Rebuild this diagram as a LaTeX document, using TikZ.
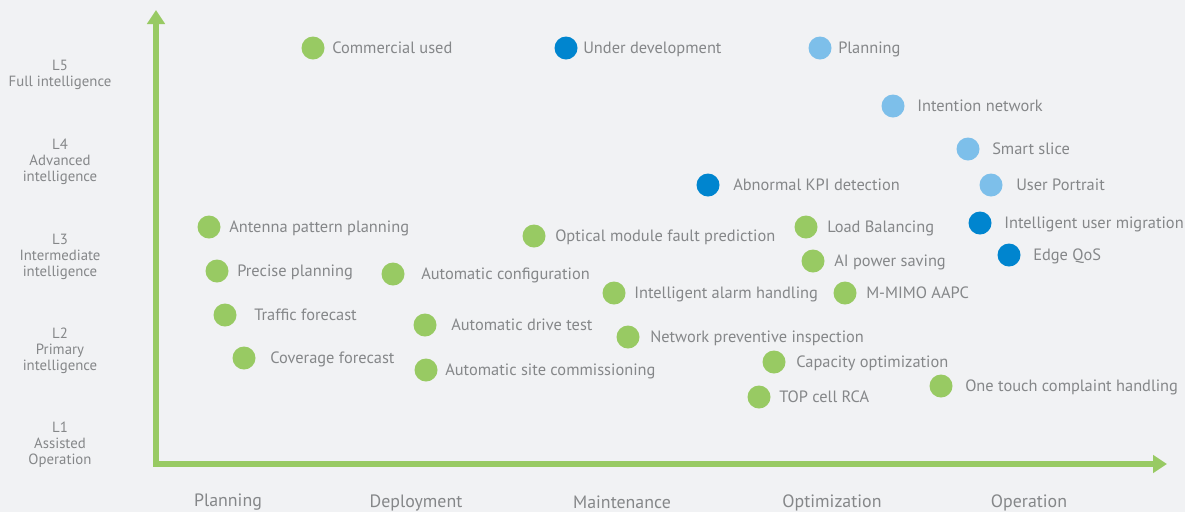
\documentclass[tikz,border=0pt]{standalone}
\usepackage{fontspec}
\setmainfont{PT Sans}
\usetikzlibrary{arrows.meta}

\definecolor{paper}{HTML}{F1F2F4}
\definecolor{used}{HTML}{98CA63}
\definecolor{dev}{HTML}{0085CF}
\definecolor{plan}{HTML}{7DBFEA}
\definecolor{ink}{HTML}{858789}

\tikzstyle{axis}=[-{Triangle[length=10.5pt,width=13pt]}, line width=3.9pt, draw=used]
\tikzstyle{dot}=[circle, inner sep=0pt, minimum size=17.25pt]
\tikzstyle{gdot}=[dot, fill=used]
\tikzstyle{bdot}=[dot, fill=dev]
\tikzstyle{ldot}=[dot, fill=plan]
\tikzstyle{item}=[anchor=west, inner sep=0pt, text=ink, font=\fontsize{12.3}{14}\selectfont, text height=0.88em, text depth=0pt]
\tikzstyle{level}=[align=center, text=ink, font=\fontsize{11.1}{12}\selectfont]
\tikzstyle{stage}=[inner sep=0pt, text=ink, font=\fontsize{13.4}{15}\selectfont]

\begin{document}
\begin{tikzpicture}[x=0.75pt, y=-0.75pt]
    \fill[paper] (0,0) rectangle (1185,512);
    \useasboundingbox (0,0) rectangle (1185,512);

    % axes
    \coordinate (origin) at (156,464);
    \coordinate (ytop) at (156,10);
    \coordinate (xend) at (1167,464);
    \draw[axis] ([yshift=-1.9pt]origin) -- (ytop);
    \draw[axis] ([xshift=-1.9pt]origin) -- (xend);

    % levels
    \node (L5) at (60,75) [level] {L5\\Full intelligence};
    \node (L4) at (60,162) [level] {L4\\Advanced\\intelligence};
    \node (L3) at (60,257) [level] {L3\\Intermediate\\intelligence};
    \node (L2) at (60,351) [level] {L2\\Primary\\intelligence};
    \node (L1) at (60,445) [level] {L1\\Assisted\\Operation};

    % stages
    \node (planning) at (228,502.5) [stage] {Planning};
    \node (deployment) at (416,502.5) [stage] {Deployment};
    \node (maintenance) at (622,502.5) [stage] {Maintenance};
    \node (optimization) at (832,502.5) [stage] {Optimization};
    \node (operation) at (1029,502.5) [stage] {Operation};

    % legend
    \node (usedDot) at (313,48) [gdot] {};
    \node (usedText) at (332,48) [item] {Commercial used};
    \node (devDot) at (566,48) [bdot] {};
    \node (devText) at (583,48) [item] {Under development};
    \node (planDot) at (820,48) [ldot] {};
    \node (planText) at (838,48) [item] {Planning};

    % planned use cases
    \node (intention) at (893,106) [ldot] {};
    \node (intentionText) at (917,106) [item] {Intention network};
    \node (slice) at (968,149) [ldot] {};
    \node (sliceText) at (992,149) [item] {Smart slice};
    \node (portrait) at (991,185) [ldot] {};
    \node (portraitText) at (1016,185) [item] {User Portrait};

    % use cases under development
    \node (kpi) at (708,185) [bdot] {};
    \node (kpiText) at (733,185) [item] {Abnormal KPI detection};
    \node (migration) at (980,223) [bdot] {};
    \node (migrationText) at (1004,223) [item] {Intelligent user migration};
    \node (qos) at (1009,255) [bdot] {};
    \node (qosText) at (1033,255) [item] {Edge QoS};

    % use cases in commercial use
    \node (antenna) at (209,227) [gdot] {};
    \node (antennaText) at (229,227) [item] {Antenna pattern planning};
    \node (optical) at (534,236) [gdot] {};
    \node (opticalText) at (555,236) [item] {Optical module fault prediction};
    \node (balancing) at (806,227) [gdot] {};
    \node (balancingText) at (827,227) [item] {Load Balancing};
    \node (power) at (813,261) [gdot] {};
    \node (powerText) at (834,261) [item] {AI power saving};
    \node (precise) at (217,271) [gdot] {};
    \node (preciseText) at (237,271) [item] {Precise planning};
    \node (autoconf) at (393,274) [gdot] {};
    \node (autoconfText) at (421,274) [item] {Automatic configuration};
    \node (alarm) at (614,293) [gdot] {};
    \node (alarmText) at (634,293) [item] {Intelligent alarm handling};
    \node (aapc) at (845,293) [gdot] {};
    \node (aapcText) at (866,293) [item] {M-MIMO AAPC};
    \node (traffic) at (225,315) [gdot] {};
    \node (trafficText) at (254,315) [item] {Traffic forecast};
    \node (drive) at (425,325) [gdot] {};
    \node (driveText) at (451,325) [item] {Automatic drive test};
    \node (inspection) at (628,337) [gdot] {};
    \node (inspectionText) at (650,337) [item] {Network preventive inspection};
    \node (coverage) at (244,358) [gdot] {};
    \node (coverageText) at (270,358) [item] {Coverage forecast};
    \node (capacity) at (774,362) [gdot] {};
    \node (capacityText) at (796,362) [item] {Capacity optimization};
    \node (commissioning) at (426,370) [gdot] {};
    \node (commissioningText) at (445,370) [item] {Automatic site commissioning};
    \node (complaint) at (941,386) [gdot] {};
    \node (complaintText) at (965,386) [item] {One touch complaint handling};
    \node (rca) at (759,397) [gdot] {};
    \node (rcaText) at (779,397) [item] {TOP cell RCA};
\end{tikzpicture}
\end{document}
